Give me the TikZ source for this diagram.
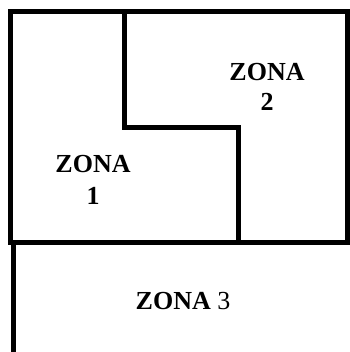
\documentclass[tikz,border=0pt]{standalone}
\usepackage{fontspec}
\setmainfont{Liberation Serif}
\begin{document}
\begin{tikzpicture}[x=1pt,y=-1pt,
  wall/.style={line width=5pt,line cap=rect,line join=miter},
  lbl/.style={font=\fontsize{26}{31}\selectfont\bfseries,anchor=base,inner sep=0pt}]
\useasboundingbox (0,0) rectangle (349,352);
% coordinates
\coordinate (tl) at (10,12);
\coordinate (tm) at (124,12);
\coordinate (tr) at (349,12);
\coordinate (step1) at (124,128);
\coordinate (step2) at (238,128);
\coordinate (mb) at (238,242);
\coordinate (ml) at (10,242);
\coordinate (mr) at (347,242);
\coordinate (ml2) at (13,242);
\coordinate (bl) at (13,354);
% walls
\draw[wall] (ml) -- (tl) -- (tr);
\draw[wall] (347,12) -- (mr);
\draw[wall] (tm) -- (step1) -- (step2) -- (mb);
\draw[wall] (ml) -- (349,242);
\draw[wall] (ml2) -- (bl);
% labels
\node[lbl] (z1a) at (93,172) {ZONA};
\node[lbl] (z1b) at (93,204) {1};
\node[lbl] (z2a) at (267,81) {ZONA};
\node[lbl] (z2b) at (267,111) {2};
\node[lbl] (z3) at (183,309) {ZONA \mdseries 3};
\end{tikzpicture}
\end{document}
